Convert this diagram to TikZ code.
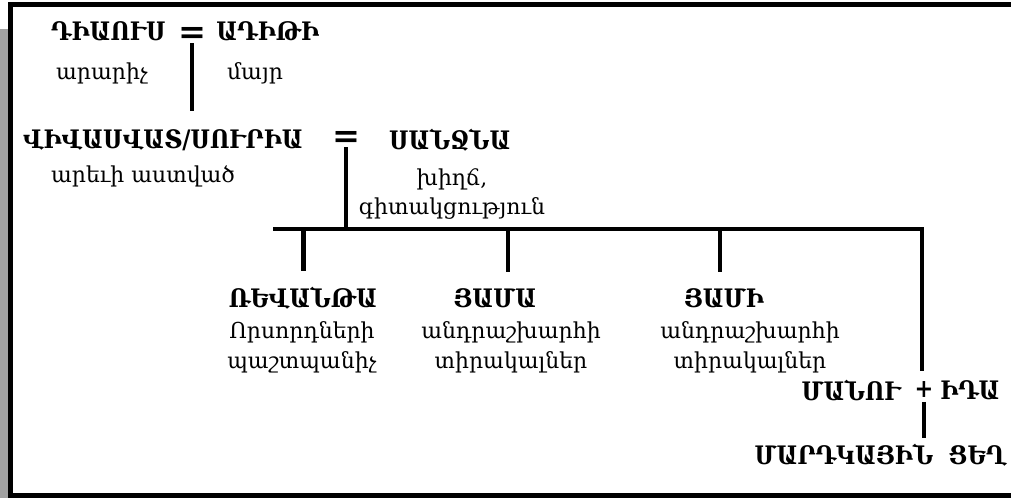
\documentclass[tikz,border=0pt]{standalone}
\usepackage{fontspec}
\newfontfamily\armfont{DejaVu Serif}
\newfontfamily\armboldfont[FakeStretch=0.88]{DejaVu Serif Bold}
\tikzset{
  god/.style={font=\armboldfont\fontsize{14.5}{16}\selectfont, inner sep=0pt},
  gloss/.style={font=\armfont\fontsize{12.5}{17}\selectfont, align=center, inner sep=0pt},
  wed/.style={font=\armfont\bfseries\fontsize{19}{19}\selectfont, inner sep=0pt},
  link/.style={line width=2.8pt},
}
\begin{document}
\begin{tikzpicture}[x=0.02cm,y=-0.02cm]
\useasboundingbox (0,0) rectangle (1011,498);
% frame, open at the right where the page cuts it
\fill[black!37] (0,29) rectangle (8,498);
\draw[line width=2.8pt] (1011,4.5) -- (10.5,4.5) -- (10.5,495.5) -- (1011,495.5);

% first generation
\node[god,anchor=east] (dyaus) at (166,31) {ԴԻԱՈՒՍ};
\node[wed] (eq1) at (192,35) {=};
\node[god,anchor=west] (aditi) at (216,31) {ԱԴԻԹԻ};
\node[gloss] (creator) at (102,73) {արարիչ};
\node[gloss] (mother) at (255,73) {մայր};

% second generation
\node[god] (vivasvat) at (163,140) {ՎԻՎԱՍՎԱՏ/ՍՈՒՐԻԱ};
\node[gloss] (sungod) at (143,176) {արեւի աստված};
\node[wed] (eq2) at (346,139) {=};
\node[god] (sanjna) at (450,140) {ՍԱՆՋՆԱ};
\node[gloss] (conscience) at (452,194) {խիղճ,\\գիտակցություն};

% children
\node[god] (revanta) at (303,298) {ՌԵՎԱՆԹԱ};
\node[gloss] (revantaG) at (302,347) {Որսորդների\\պաշտպանիչ};
\node[god] (yama) at (495,298) {ՅԱՄԱ};
\node[gloss] (yamaG) at (511,347) {անդրաշխարհի\\տիրակալներ};
\node[god] (yami) at (724,298) {ՅԱՄԻ};
\node[gloss] (yamiG) at (750,347) {անդրաշխարհի\\տիրակալներ};

% manu
\node[god,anchor=east] (manu) at (901,390) {ՄԱՆՈՒ};
\node[god] (plus) at (924,390) {+};
\node[god,anchor=west] (ida) at (940,390) {ԻԴԱ};
\node[god,anchor=east] (mankind) at (1007,455) {ՄԱՐԴԿԱՅԻՆ\ \ ՑԵՂ};

\coordinate (barL) at (273,229);
\coordinate (barR) at (922,229);

\draw[link] (eq1.south) -- ([yshift=10pt]eq1.south |- vivasvat.north);
\draw[link] (eq2.south) -- (eq2.south |- barL);
\draw[link] (barL) -- (barR) -- ([yshift=6pt]barR |- plus.north);
\foreach \kid/\dx in {revanta/0.5pt,yama/7.4pt,yami/-2.3pt}
  \draw[link] ([xshift=\dx]\kid.north |- barL) -- ([xshift=\dx,yshift=9pt]\kid.north);
\draw[link] ([yshift=-2pt]plus.south) -- ([yshift=3pt]plus.south |- mankind.north);
\end{tikzpicture}
\end{document}
